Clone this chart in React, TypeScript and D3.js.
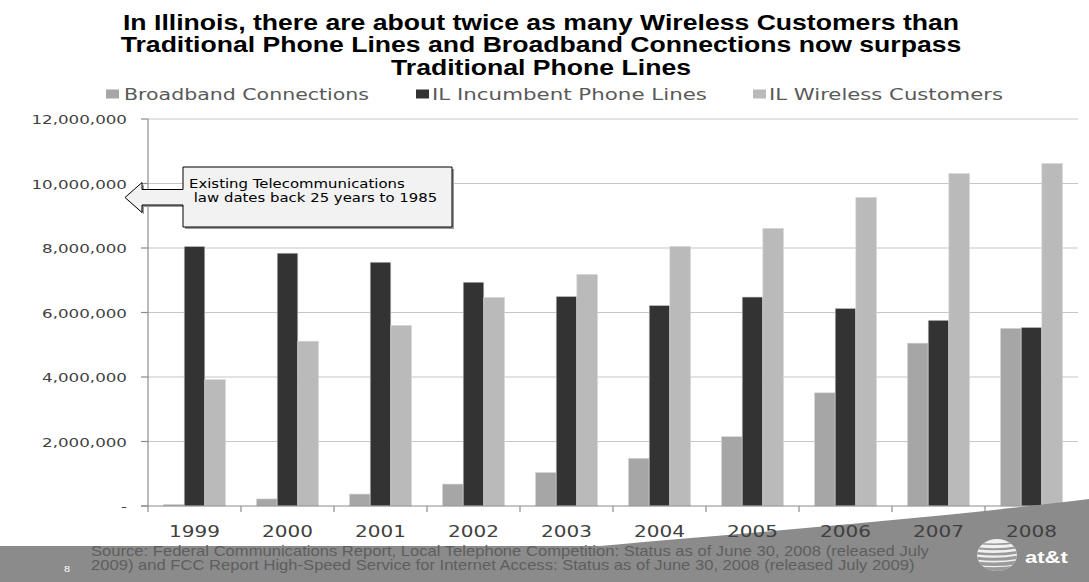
import React from 'react';
import * as d3 from 'd3';

const years = ['1999', '2000', '2001', '2002', '2003', '2004', '2005', '2006', '2007', '2008'];
const broadband = [50000, 220000, 370000, 680000, 1040000, 1480000, 2150000, 3510000, 5050000, 5510000];
const incumbent = [8050000, 7840000, 7560000, 6940000, 6500000, 6220000, 6480000, 6130000, 5760000, 5540000];
const wireless = [3920000, 5110000, 5600000, 6470000, 7180000, 8050000, 8610000, 9570000, 10310000, 10620000];
const yTicks = [0, 2000000, 4000000, 6000000, 8000000, 10000000, 12000000];
const seriesNames = ['Broadband Connections', 'IL Incumbent Phone Lines', 'IL Wireless Customers'];
const seriesColors = ['#a6a6a6', '#333333', '#bababa'];
const titleLines = [
  'In Illinois, there are about twice as many Wireless Customers than',
  'Traditional Phone Lines and Broadband Connections now surpass',
  'Traditional Phone Lines',
];
const calloutLines = ['Existing Telecommunications', ' law dates back 25 years to 1985'];
const sourceLines = [
  'Source: Federal Communications Report, Local Telephone Competition: Status as of June 30, 2008 (released July',
  '2009) and FCC Report High-Speed Service for Internet Access: Status as of June 30, 2008 (released July 2009)',
];

const SY = 0.78;
const W = 1089;
const H = 582;
const plot = { left: 148, right: 1078, top: 119, bottom: 506 };
const VERDANA = 'Verdana, "DejaVu Sans", sans-serif';
const ARIAL = 'Arial, "Liberation Sans", sans-serif';

function T(props: any) {
  const { x, y, sy = SY, children, ...rest } = props;
  return (
    <text transform={`translate(${x},${y}) scale(1,${sy})`} {...rest}>
      {children}
    </text>
  );
}

export default function App() {
  const x = d3.scaleBand<string>().domain(years).range([plot.left, plot.right]).paddingInner(0).paddingOuter(0);
  const y = d3.scaleLinear().domain([0, 12000000]).range([plot.bottom, plot.top]);
  const bw = x.bandwidth();
  const inner = d3
    .scaleBand<number>()
    .domain([0, 1, 2])
    .range([bw / 6, (bw * 5) / 6]);
  const series = [broadband, incumbent, wireless];
  const fmt = d3.format(',');

  const swoosh = 'M0,546 L600,546 C720,535 920,520 1089,499 L1089,582 L0,582 Z';

  // callout geometry
  const cb = { x0: 183, x1: 452, y0: 167, y1: 227 };
  const arrow = `M${cb.x0},${cb.y0} L${cb.x1},${cb.y0} L${cb.x1},${cb.y1} L${cb.x0},${cb.y1} L${cb.x0},205 L142,205 L142,212.5 L125,197.5 L142,182.5 L142,189.5 L${cb.x0},189.5 Z`;

  const legendX = [
    { sq: 106, tx: 124, len: 245 },
    { sq: 416, tx: 432, len: 275 },
    { sq: 753, tx: 769, len: 234 },
  ];

  return (
    <svg width={W} height={H} style={{ position: 'absolute', left: 0, top: 0, background: '#fff' }}>
      {/* title */}
      {titleLines.map((t, i) => (
        <T key={i} x={541} y={29.5 + i * 22.5} sy={0.86} textAnchor="middle" fontFamily={ARIAL} fontWeight="bold" fontSize={26.6} fill="#000">
          {t}
        </T>
      ))}
      {/* legend */}
      {seriesNames.map((n, i) => (
        <g key={n}>
          <rect x={legendX[i].sq} y={89.5} width={13} height={9} fill={seriesColors[i]} />
          <T x={legendX[i].tx} y={99.5} fontFamily={VERDANA} fontSize={20.4} fill="#595959" textLength={legendX[i].len} lengthAdjust="spacingAndGlyphs">
            {n}
          </T>
        </g>
      ))}
      {/* gridlines */}
      {yTicks.slice(1).map((t) => (
        <line key={t} x1={plot.left} x2={plot.right} y1={y(t)} y2={y(t)} stroke="#c6c6c6" strokeWidth={1.2} />
      ))}
      {/* y axis */}
      <line x1={plot.left} x2={plot.left} y1={plot.top} y2={plot.bottom} stroke="#8c8c8c" strokeWidth={1.2} />
      {yTicks.map((t) => (
        <g key={t}>
          <line x1={plot.left - 7} x2={plot.left} y1={y(t)} y2={y(t)} stroke="#8c8c8c" strokeWidth={1.2} />
          <T x={127} y={y(t) + 5} textAnchor="end" fontFamily={VERDANA} fontSize={16.7} fill="#404040">
            {t === 0 ? '-' : fmt(t)}
          </T>
        </g>
      ))}
      {/* bars */}
      {years.map((yr, i) => (
        <g key={yr}>
          {series.map((s, k) => (
            <rect
              key={k}
              x={(x(yr) as number) + (inner(k) as number)}
              y={y(s[i])}
              width={inner.bandwidth()}
              height={plot.bottom - y(s[i])}
              fill={seriesColors[k]}
              stroke="#d8d8d8"
              strokeWidth={0.6}
            />
          ))}
        </g>
      ))}
      {/* x axis */}
      <line x1={plot.left - 7} x2={plot.right} y1={plot.bottom} y2={plot.bottom} stroke="#8c8c8c" strokeWidth={1.2} />
      {years.map((yr) => (
        <line key={yr} x1={x(yr) as number} x2={x(yr) as number} y1={plot.bottom} y2={plot.bottom + 6} stroke="#8c8c8c" strokeWidth={1.2} />
      ))}
      <line x1={plot.right} x2={plot.right} y1={plot.bottom} y2={plot.bottom + 6} stroke="#8c8c8c" strokeWidth={1.2} />
      {/* callout */}
      <path d={arrow} transform="translate(2,2)" fill="#9a9a9a" />
      <path d={arrow} fill="#f2f2f2" stroke="#000" strokeWidth={1} />
      {calloutLines.map((t, i) => (
        <T key={i} x={189} y={188 + i * 14} fontFamily={VERDANA} fontSize={14.9} fill="#000" style={{ whiteSpace: 'pre' }}>
          {t}
        </T>
      ))}
      {/* bottom band */}
      <path d={swoosh} fill="#8b8b8b" />
      {/* x labels */}
      {years.map((yr) => (
        <T key={yr} x={(x(yr) as number) + bw / 2} y={537} textAnchor="middle" fontFamily={VERDANA} fontSize={20} fill="#404040">
          {yr}
        </T>
      ))}
      {/* source */}
      {sourceLines.map((t, i) => (
        <T key={i} x={91} y={556} dy={0} sy={0.88} fontFamily={ARIAL} fontSize={16.6} fill="#5e5e5e">
          <tspan x={0} y={(i * 14) / 0.88}>{t}</tspan>
        </T>
      ))}
      <T x={64} y={572} fontFamily={ARIAL} fontSize={11} fill="#fff">
        8
      </T>
      {/* at&t logo */}
      <defs>
        <clipPath id="globe">
          <ellipse cx={997} cy={555} rx={20} ry={16} />
        </clipPath>
      </defs>
      <ellipse cx={997} cy={555} rx={20} ry={16} fill="#f0f0f0" />
      <g clipPath="url(#globe)" fill="none" stroke="#9a9a9a">
        {[-12, -7, -2, 3, 8, 13].map((dy, i) => (
          <path key={i} d={`M975,${555 + dy} Q997,${555 + dy + 3} 1019,${555 + dy - 1}`} strokeWidth={1.6 + i * 0.5} />
        ))}
      </g>
      <T x={1025} y={563} fontFamily={ARIAL} fontWeight="bold" fontSize={22} fill="#fff">
        at&amp;t
      </T>
    </svg>
  );
}
